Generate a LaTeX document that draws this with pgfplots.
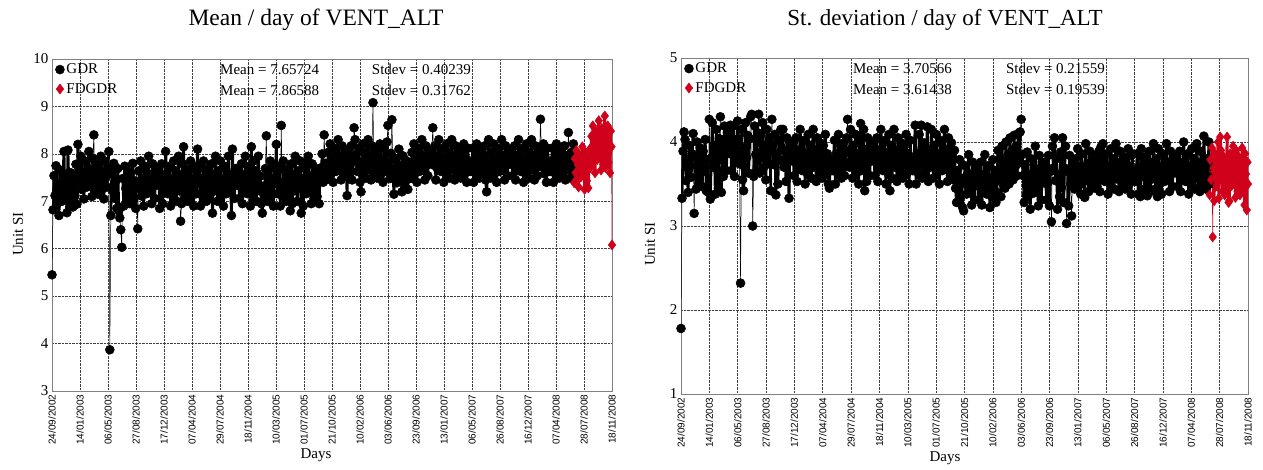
\documentclass[border=0pt]{standalone}
\usepackage{pgfplots}
\pgfplotsset{compat=1.18}
\usepackage{pgfplotstable}
\usepackage{fontspec}
\setmainfont{Liberation Serif}
\newfontfamily\tickfont{Liberation Sans}
\definecolor{fdred}{RGB}{208,2,27}

% mean per day, GDR (sampled every 4 days)
\pgfplotstableread[row sep=\\]{day val\\
0 5.45\\ 4 6.82\\ 8 7.54\\ 12 7.12\\ 16 7.75\\ 20 6.94\\ 24 7.36\\ 28 6.70\\ 32 7.66\\ 36 7.24\\
40 7.00\\ 44 7.48\\ 48 8.05\\ 52 7.06\\ 56 7.42\\ 60 6.76\\ 64 8.08\\ 68 7.18\\ 72 6.88\\ 76 7.60\\
80 7.30\\ 84 6.88\\ 88 7.54\\ 92 7.12\\ 96 7.78\\ 100 6.94\\
104 8.20\\ 108 7.75\\ 112 7.40\\ 116 7.95\\ 120 7.25\\ 124 7.60\\ 128 7.05\\ 132 7.85\\ 136 7.50\\ 140 7.30\\
144 7.70\\ 148 8.05\\ 152 7.35\\ 156 7.65\\ 160 7.10\\ 164 7.90\\ 168 8.40\\ 172 7.20\\ 176 7.80\\ 180 7.55\\
184 7.15\\ 188 7.75\\ 192 7.40\\ 196 7.95\\ 200 7.25\\ 204 7.60\\ 208 7.05\\ 212 7.85\\ 216 7.50\\ 220 7.30\\
224 7.70\\ 228 8.05\\ 232 3.87\\
236 6.70\\ 240 7.59\\ 244 7.22\\ 248 7.80\\ 252 7.06\\ 256 7.43\\ 260 6.85\\ 264 7.69\\ 268 6.80\\ 272 6.65\\
276 6.40\\ 280 6.03\\ 284 7.48\\ 288 6.90\\ 292 7.74\\ 296 7.27\\ 300 7.01\\ 304 7.64\\ 308 7.38\\ 312 6.95\\
316 7.59\\ 320 7.22\\ 324 7.80\\ 328 7.06\\ 332 7.43\\ 336 6.85\\ 340 7.40\\
344 6.42\\ 348 7.64\\ 352 7.27\\ 356 7.85\\ 360 7.11\\ 364 7.48\\ 368 6.90\\ 372 7.74\\ 376 7.37\\ 380 7.16\\
384 7.58\\ 388 7.95\\ 392 7.22\\ 396 7.53\\ 400 6.95\\ 404 7.79\\ 408 7.32\\ 412 7.06\\ 416 7.69\\ 420 7.43\\
424 7.43\\ 428 7.69\\ 432 6.85\\ 436 7.32\\ 440 7.79\\ 444 6.95\\ 448 7.53\\ 452 7.22\\ 456 8.05\\ 460 7.58\\
464 7.16\\ 468 7.37\\ 472 7.74\\ 476 6.90\\ 480 7.48\\ 484 7.11\\ 488 7.85\\ 492 7.27\\ 496 7.64\\ 500 7.00\\
504 7.58\\ 508 7.95\\ 512 7.22\\ 516 6.58\\ 520 6.95\\ 524 7.79\\ 528 8.15\\ 532 7.06\\ 536 7.69\\ 540 7.43\\
544 7.00\\ 548 7.64\\ 552 7.27\\ 556 7.85\\ 560 7.11\\ 564 7.48\\ 568 6.90\\ 572 7.74\\ 576 7.37\\ 580 7.16\\
584 8.10\\ 588 7.37\\ 592 7.74\\ 596 6.90\\ 600 7.48\\ 604 7.11\\ 608 7.85\\ 612 7.27\\ 616 7.64\\ 620 7.00\\
624 7.43\\ 628 7.69\\ 632 7.06\\ 636 7.32\\ 640 7.79\\ 644 6.75\\ 648 7.53\\ 652 7.22\\ 656 7.95\\ 660 7.58\\
664 7.00\\ 668 7.64\\ 672 7.27\\ 676 7.85\\ 680 7.11\\ 684 7.48\\ 688 6.90\\ 692 7.74\\ 696 7.37\\ 700 7.16\\
704 7.58\\ 708 7.95\\ 712 7.22\\ 716 7.53\\ 720 6.70\\ 724 8.10\\ 728 7.32\\ 732 7.06\\ 736 7.69\\ 740 7.43\\
744 7.43\\ 748 7.69\\ 752 7.06\\ 756 7.32\\ 760 7.79\\ 764 6.95\\ 768 7.53\\ 772 7.22\\ 776 7.95\\ 780 7.58\\
784 7.16\\ 788 7.37\\ 792 7.74\\ 796 6.90\\ 800 8.15\\ 804 7.11\\ 808 7.85\\ 812 7.27\\ 816 7.64\\ 820 7.00\\
824 7.58\\ 828 7.95\\ 832 7.22\\ 836 7.53\\ 840 6.95\\ 844 6.75\\ 848 7.32\\ 852 7.06\\ 856 7.69\\ 860 8.38\\
864 7.00\\ 868 7.64\\ 872 7.27\\ 876 7.85\\ 880 7.11\\ 884 7.48\\ 888 6.90\\ 892 7.74\\ 896 7.37\\ 900 8.20\\
904 7.16\\ 908 7.37\\ 912 7.74\\ 916 6.90\\ 920 8.60\\ 924 7.11\\ 928 7.85\\ 932 7.27\\ 936 7.64\\ 940 7.00\\
944 7.43\\ 948 7.69\\ 952 7.06\\ 956 6.80\\ 960 7.79\\ 964 6.95\\ 968 7.53\\ 972 7.22\\ 976 7.95\\ 980 7.58\\
984 7.00\\ 988 7.64\\ 992 7.27\\ 996 7.85\\ 1000 6.75\\ 1004 7.48\\ 1008 6.90\\ 1012 7.74\\ 1016 7.37\\ 1020 7.16\\
1024 7.85\\ 1028 7.95\\ 1032 7.22\\ 1036 7.53\\ 1040 6.95\\ 1044 7.79\\ 1048 7.32\\ 1052 7.06\\ 1056 7.69\\ 1060 7.43\\
1064 7.10\\ 1068 7.55\\ 1072 6.95\\ 1076 7.70\\ 1080 7.50\\ 1084 8.00\\ 1088 7.40\\ 1092 8.40\\ 1096 7.80\\ 1100 7.45\\
1104 7.49\\ 1108 8.03\\ 1112 7.72\\ 1116 8.21\\ 1120 7.58\\ 1124 7.90\\ 1128 7.40\\ 1132 8.12\\ 1136 7.81\\ 1140 7.63\\
1144 7.99\\ 1148 8.30\\ 1152 7.67\\ 1156 7.94\\ 1160 7.45\\ 1164 8.17\\ 1168 7.76\\ 1172 7.54\\ 1176 8.08\\ 1180 7.85\\
1184 7.12\\ 1188 8.08\\ 1192 7.54\\ 1196 7.76\\ 1200 8.17\\ 1204 7.45\\ 1208 7.94\\ 1212 8.55\\ 1216 8.30\\ 1220 7.99\\
1224 7.63\\ 1228 7.81\\ 1232 8.12\\ 1236 7.40\\ 1240 7.20\\ 1244 7.58\\ 1248 8.21\\ 1252 7.72\\ 1256 8.03\\ 1260 7.49\\
1264 7.99\\ 1268 8.30\\ 1272 7.67\\ 1276 7.94\\ 1280 7.45\\ 1284 8.17\\ 1288 9.08\\ 1292 7.54\\ 1296 8.08\\ 1300 7.85\\
1304 7.49\\ 1308 8.03\\ 1312 7.72\\ 1316 8.21\\ 1320 7.58\\ 1324 7.90\\ 1328 7.40\\ 1332 8.12\\ 1336 7.81\\ 1340 7.63\\
1344 8.25\\ 1348 8.60\\ 1352 7.82\\ 1356 7.48\\ 1360 8.01\\ 1364 8.72\\ 1368 7.67\\ 1372 7.15\\ 1376 7.91\\ 1380 7.58\\
1384 7.39\\ 1388 7.77\\ 1392 8.10\\ 1396 7.44\\ 1400 7.72\\ 1404 7.20\\ 1408 7.96\\ 1412 7.53\\ 1416 7.29\\ 1420 7.86\\
1424 7.63\\ 1428 7.25\\ 1432 7.82\\ 1436 7.48\\
1440 7.49\\ 1444 8.03\\ 1448 7.72\\ 1452 8.21\\ 1456 7.58\\ 1460 7.90\\ 1464 7.40\\ 1468 8.12\\ 1472 7.81\\ 1476 7.63\\
1480 7.99\\ 1484 8.30\\ 1488 7.67\\ 1492 7.94\\ 1496 7.45\\ 1500 8.17\\ 1504 7.76\\ 1508 7.54\\ 1512 8.08\\ 1516 7.85\\
1520 7.85\\ 1524 8.08\\ 1528 8.55\\ 1532 7.76\\ 1536 8.17\\ 1540 7.45\\ 1544 7.94\\ 1548 7.67\\ 1552 8.30\\ 1556 7.99\\
1560 7.63\\ 1564 7.81\\ 1568 8.12\\ 1572 7.40\\ 1576 7.90\\ 1580 7.58\\ 1584 8.21\\ 1588 7.72\\ 1592 8.03\\ 1596 7.49\\
1600 7.99\\ 1604 8.30\\ 1608 7.67\\ 1612 7.94\\ 1616 7.45\\ 1620 8.17\\ 1624 7.76\\ 1628 7.54\\ 1632 8.08\\ 1636 7.85\\
1640 7.49\\ 1644 8.03\\ 1648 7.72\\ 1652 8.21\\ 1656 7.58\\ 1660 7.90\\ 1664 7.40\\ 1668 8.12\\ 1672 7.81\\ 1676 7.63\\
1680 7.63\\ 1684 7.81\\ 1688 8.12\\ 1692 7.40\\ 1696 7.90\\ 1700 7.58\\ 1704 8.21\\ 1708 7.72\\ 1712 8.03\\ 1716 7.49\\
1720 7.85\\ 1724 8.08\\ 1728 7.54\\ 1732 7.76\\ 1736 8.17\\ 1740 7.45\\ 1744 7.20\\ 1748 7.67\\ 1752 8.30\\ 1756 7.99\\
1760 7.49\\ 1764 8.03\\ 1768 7.72\\ 1772 8.21\\ 1776 7.58\\ 1780 7.90\\ 1784 7.40\\ 1788 8.12\\ 1792 7.81\\ 1796 7.63\\
1800 7.99\\ 1804 8.30\\ 1808 7.67\\ 1812 7.94\\ 1816 7.45\\ 1820 8.17\\ 1824 7.76\\ 1828 7.54\\ 1832 8.08\\ 1836 7.85\\
1840 7.85\\ 1844 8.08\\ 1848 7.54\\ 1852 7.76\\ 1856 8.17\\ 1860 7.45\\ 1864 7.94\\ 1868 7.67\\ 1872 8.30\\ 1876 7.99\\
1880 7.63\\ 1884 7.81\\ 1888 8.12\\ 1892 7.40\\ 1896 7.90\\ 1900 7.58\\ 1904 8.21\\ 1908 7.72\\ 1912 8.03\\ 1916 7.49\\
1920 7.99\\ 1924 8.30\\ 1928 7.67\\ 1932 7.94\\ 1936 7.45\\ 1940 8.17\\ 1944 7.76\\ 1948 7.54\\ 1952 8.08\\ 1956 7.85\\
1960 8.73\\ 1964 8.03\\ 1968 7.72\\ 1972 8.21\\ 1976 7.58\\ 1980 7.90\\ 1984 7.40\\ 1988 8.12\\ 1992 7.81\\ 1996 7.63\\
2000 7.63\\ 2004 7.81\\ 2008 8.12\\ 2012 7.40\\ 2016 7.90\\ 2020 7.58\\ 2024 8.21\\ 2028 7.72\\ 2032 8.03\\ 2036 7.49\\
2040 7.85\\ 2044 8.08\\ 2048 7.54\\ 2052 7.76\\ 2056 8.17\\ 2060 7.45\\ 2064 7.94\\ 2068 7.67\\ 2072 8.45\\ 2076 7.99\\
2080 7.49\\ 2084 8.03\\ 2088 7.72\\ 2092 8.21\\ 2096 7.58\\ 2100 7.90\\
}\meanGDR

% mean per day, FDGDR (every 3 days)
\pgfplotstableread[row sep=\\]{day val\\
2095 7.39\\ 2098 7.90\\ 2101 7.60\\ 2104 8.07\\ 2107 7.47\\ 2110 7.77\\ 2113 7.30\\ 2116 7.98\\ 2119 7.68\\ 2122 7.51\\
2125 7.85\\ 2128 8.15\\ 2131 7.56\\ 2134 7.81\\ 2137 7.25\\ 2140 8.02\\ 2143 7.64\\ 2146 7.43\\ 2149 7.94\\ 2152 7.28\\
2155 7.73\\ 2158 8.10\\ 2161 7.71\\ 2164 8.37\\ 2167 7.99\\ 2170 8.59\\ 2173 7.82\\ 2176 8.21\\ 2179 7.60\\ 2182 8.48\\
2185 8.10\\ 2188 7.88\\ 2191 8.32\\ 2194 8.70\\ 2197 7.93\\ 2200 8.26\\ 2203 7.66\\ 2206 8.54\\ 2209 8.04\\ 2212 7.77\\
2215 8.43\\ 2218 8.80\\ 2221 7.71\\ 2224 8.37\\ 2227 7.99\\ 2230 8.59\\ 2233 7.82\\ 2236 8.21\\ 2239 7.60\\ 2242 8.48\\
2245 8.15\\ 2247 6.08\\
}\meanFD

% standard deviation per day, GDR (every 4 days)
\pgfplotstableread[row sep=\\]{day val\\
0 1.78\\ 4 3.33\\ 8 3.89\\ 12 4.12\\ 16 4.03\\ 20 3.54\\ 24 3.79\\ 28 3.40\\ 32 3.96\\ 36 3.72\\
40 3.58\\ 44 3.86\\ 48 4.10\\ 52 3.15\\ 56 3.82\\ 60 3.44\\ 64 4.00\\ 68 3.68\\ 72 3.51\\ 76 3.93\\
80 3.75\\ 84 3.47\\ 88 3.89\\ 92 3.65\\ 96 4.03\\ 100 3.42\\ 104 3.79\\ 108 3.40\\
112 4.27\\ 116 3.32\\ 120 3.81\\ 124 4.23\\ 128 3.70\\ 132 3.96\\ 136 3.38\\ 140 4.15\\ 144 3.89\\ 148 3.45\\
152 4.04\\ 156 4.30\\ 160 3.40\\ 164 4.00\\ 168 3.59\\ 172 4.19\\ 176 3.85\\ 180 3.66\\ 184 4.11\\ 188 3.93\\
192 3.93\\ 196 4.20\\ 200 3.66\\ 204 3.85\\ 208 4.19\\ 212 3.59\\ 216 4.00\\ 220 3.78\\ 224 4.25\\ 228 4.04\\
232 3.74\\ 236 2.32\\ 240 4.15\\ 244 3.55\\ 248 3.42\\ 252 3.70\\ 256 4.23\\ 260 3.81\\ 264 4.08\\ 268 3.63\\
272 4.04\\ 276 4.30\\ 280 4.33\\ 284 3.00\\ 288 3.59\\ 292 4.19\\ 296 3.85\\ 300 3.66\\ 304 4.11\\ 308 4.33\\
312 3.63\\ 316 4.08\\ 320 3.81\\ 324 4.23\\ 328 3.70\\ 332 3.96\\ 336 3.55\\ 340 4.15\\ 344 3.89\\ 348 3.74\\
352 4.05\\ 356 3.42\\
360 4.27\\ 364 3.96\\ 368 3.73\\ 372 4.09\\ 376 3.37\\ 380 3.86\\ 384 3.50\\ 388 4.02\\ 392 3.79\\ 396 4.15\\
400 3.92\\ 404 4.15\\ 408 3.70\\ 412 3.89\\ 416 3.53\\ 420 4.05\\ 424 3.76\\ 428 3.33\\ 432 3.99\\ 436 3.83\\
440 3.83\\ 444 3.99\\ 448 3.60\\ 452 3.76\\ 456 4.05\\ 460 3.53\\ 464 3.89\\ 468 3.70\\ 472 4.15\\ 476 3.92\\
480 3.66\\ 484 3.79\\ 488 4.02\\ 492 3.50\\ 496 3.86\\ 500 3.63\\ 504 4.09\\ 508 3.73\\ 512 3.96\\ 516 3.57\\
520 3.92\\ 524 4.15\\ 528 3.70\\ 532 3.89\\ 536 3.53\\ 540 4.05\\ 544 3.76\\ 548 3.60\\ 552 3.99\\ 556 3.83\\
560 3.57\\ 564 3.96\\ 568 3.73\\ 572 4.09\\ 576 3.63\\ 580 3.86\\ 584 3.50\\ 588 3.45\\ 592 3.79\\ 596 3.66\\
600 3.66\\ 604 3.79\\ 608 4.02\\ 612 3.50\\ 616 3.86\\ 620 3.63\\ 624 4.09\\ 628 3.73\\ 632 3.96\\ 636 3.57\\
640 3.83\\ 644 3.99\\ 648 3.60\\ 652 3.76\\ 656 4.05\\ 660 4.27\\ 664 3.89\\ 668 3.70\\ 672 4.15\\ 676 3.92\\
680 3.57\\ 684 3.96\\ 688 3.73\\ 692 4.09\\ 696 3.63\\ 700 3.86\\ 704 3.50\\ 708 4.02\\ 712 4.22\\ 716 3.66\\
720 3.92\\ 724 4.15\\ 728 3.42\\ 732 3.89\\ 736 3.53\\ 740 4.05\\ 744 3.76\\ 748 3.60\\ 752 3.99\\ 756 3.83\\
760 3.83\\ 764 3.99\\ 768 3.60\\ 772 3.76\\ 776 4.05\\ 780 3.53\\ 784 3.89\\ 788 3.70\\ 792 4.15\\ 796 3.92\\
800 3.66\\ 804 3.79\\ 808 4.02\\ 812 3.50\\ 816 3.86\\ 820 3.63\\ 824 4.09\\ 828 3.42\\ 832 3.96\\ 836 3.57\\
840 3.92\\ 844 4.15\\ 848 3.70\\ 852 3.89\\ 856 3.53\\ 860 4.05\\ 864 3.76\\ 868 3.60\\ 872 3.99\\ 876 3.83\\
880 3.57\\ 884 3.96\\ 888 3.73\\ 892 4.09\\ 896 3.63\\ 900 3.86\\ 904 3.50\\ 908 4.02\\ 912 3.79\\ 916 3.66\\
920 3.66\\ 924 3.79\\ 928 4.20\\ 932 3.50\\ 936 3.86\\ 940 3.63\\ 944 4.09\\ 948 3.73\\ 952 4.20\\ 956 3.57\\
960 3.83\\ 964 3.99\\ 968 3.60\\ 972 3.76\\ 976 4.18\\ 980 3.53\\ 984 3.89\\ 988 3.70\\ 992 4.15\\ 996 3.92\\
1000 3.57\\ 1004 3.96\\ 1008 3.73\\ 1012 4.09\\ 1016 3.63\\ 1020 3.86\\ 1024 3.50\\ 1028 4.02\\ 1032 3.79\\ 1036 3.66\\
1040 3.92\\ 1044 4.15\\ 1048 3.70\\ 1052 3.89\\ 1056 3.53\\ 1060 4.05\\ 1064 3.76\\ 1068 3.60\\ 1072 3.99\\ 1076 3.83\\
1080 3.55\\ 1084 3.90\\ 1088 3.45\\
1092 3.28\\ 1096 3.66\\ 1100 3.44\\ 1104 3.79\\ 1108 3.35\\ 1112 3.57\\ 1116 3.22\\ 1120 3.18\\ 1124 3.72\\ 1128 3.50\\
1132 3.38\\ 1136 3.63\\ 1140 3.85\\ 1144 3.41\\ 1148 3.60\\ 1152 3.25\\ 1156 3.76\\ 1160 3.47\\ 1164 3.31\\ 1168 3.69\\
1172 3.54\\ 1176 3.69\\ 1180 3.31\\ 1184 3.47\\ 1188 3.76\\ 1192 3.25\\ 1196 3.60\\ 1200 3.41\\ 1204 3.85\\ 1208 3.63\\
1212 3.38\\ 1216 3.50\\ 1220 3.72\\ 1224 3.22\\ 1228 3.57\\ 1232 3.35\\ 1236 3.79\\ 1240 3.44\\ 1244 3.66\\ 1248 3.28\\
1252 3.40\\ 1256 3.90\\ 1260 3.55\\ 1264 3.80\\ 1268 3.35\\ 1272 3.95\\ 1276 3.50\\ 1280 3.75\\ 1284 3.45\\ 1288 4.00\\
1292 3.60\\ 1296 3.85\\ 1300 3.50\\ 1304 4.05\\ 1308 3.65\\ 1312 3.90\\ 1316 3.55\\ 1320 4.08\\ 1324 3.70\\ 1328 3.95\\
1332 3.60\\ 1336 4.10\\ 1340 3.75\\ 1344 4.12\\ 1348 4.27\\ 1352 3.85\\ 1356 3.60\\
1360 3.28\\ 1364 3.73\\ 1368 3.37\\ 1372 3.88\\ 1376 3.35\\ 1380 3.61\\ 1384 3.20\\ 1388 3.80\\ 1392 3.54\\ 1396 3.39\\
1400 3.69\\ 1404 3.95\\ 1408 3.43\\ 1412 3.65\\ 1416 3.24\\ 1420 3.84\\ 1424 3.50\\ 1428 3.31\\ 1432 3.76\\ 1436 3.58\\
1440 3.58\\ 1444 3.76\\ 1448 3.31\\ 1452 3.50\\ 1456 3.84\\ 1460 3.24\\ 1464 3.65\\ 1468 3.05\\ 1472 3.95\\ 1476 3.69\\
1480 4.05\\ 1484 3.54\\ 1488 3.80\\ 1492 3.20\\ 1496 3.61\\ 1500 3.35\\ 1504 3.88\\ 1508 3.46\\ 1512 4.05\\ 1516 3.28\\
1520 3.69\\ 1524 3.95\\ 1528 3.03\\ 1532 3.65\\ 1536 3.24\\ 1540 3.84\\ 1544 3.50\\ 1548 3.12\\ 1552 3.76\\ 1556 3.58\\
1560 3.44\\ 1564 3.80\\ 1568 3.59\\ 1572 3.92\\ 1576 3.50\\ 1580 3.71\\ 1584 3.38\\ 1588 3.86\\ 1592 3.65\\ 1596 3.53\\
1600 3.34\\ 1604 3.98\\ 1608 3.56\\ 1612 3.74\\ 1616 3.41\\ 1620 3.89\\ 1624 3.62\\ 1628 3.47\\ 1632 3.83\\ 1636 3.68\\
1640 3.45\\ 1644 3.83\\ 1648 3.47\\ 1652 3.62\\ 1656 3.89\\ 1660 3.41\\ 1664 3.94\\ 1668 3.56\\ 1672 3.98\\ 1676 3.77\\
1680 3.53\\ 1684 3.65\\ 1688 3.86\\ 1692 3.38\\ 1696 3.71\\ 1700 3.50\\ 1704 3.92\\ 1708 3.59\\ 1712 3.80\\ 1716 3.44\\
1720 3.77\\ 1724 3.98\\ 1728 3.56\\ 1732 3.74\\ 1736 3.41\\ 1740 3.89\\ 1744 3.62\\ 1748 3.47\\ 1752 3.83\\ 1756 3.68\\
1760 3.44\\ 1764 3.80\\ 1768 3.59\\ 1772 3.92\\ 1776 3.50\\ 1780 3.71\\ 1784 3.38\\ 1788 3.86\\ 1792 3.65\\ 1796 3.53\\
1800 3.53\\ 1804 3.65\\ 1808 3.86\\ 1812 3.38\\ 1816 3.71\\ 1820 3.35\\ 1824 3.92\\ 1828 3.59\\ 1832 3.80\\ 1836 3.44\\
1840 3.68\\ 1844 3.83\\ 1848 3.36\\ 1852 3.62\\ 1856 3.89\\ 1860 3.41\\ 1864 3.74\\ 1868 3.56\\ 1872 3.98\\ 1876 3.77\\
1880 3.44\\ 1884 3.80\\ 1888 3.35\\ 1892 3.92\\ 1896 3.50\\ 1900 3.71\\ 1904 3.38\\ 1908 3.86\\ 1912 3.65\\ 1916 3.53\\
1920 3.77\\ 1924 3.98\\ 1928 3.56\\ 1932 3.74\\ 1936 3.41\\ 1940 3.89\\ 1944 3.62\\ 1948 3.47\\ 1952 3.83\\ 1956 3.68\\
1960 3.68\\ 1964 3.83\\ 1968 3.47\\ 1972 3.62\\ 1976 3.89\\ 1980 3.41\\ 1984 3.74\\ 1988 3.56\\ 1992 4.00\\ 1996 3.77\\
2000 3.53\\ 2004 3.65\\ 2008 3.86\\ 2012 3.38\\ 2016 3.71\\ 2020 3.50\\ 2024 3.92\\ 2028 3.59\\ 2032 3.80\\ 2036 3.44\\
2040 3.77\\ 2044 3.98\\ 2048 3.56\\ 2052 3.45\\ 2056 3.41\\ 2060 3.89\\ 2064 3.62\\ 2068 3.47\\ 2072 4.07\\ 2076 3.68\\
2080 3.44\\ 2084 3.80\\ 2088 3.59\\ 2092 4.00\\ 2096 3.50\\ 2100 3.71\\
}\sdGDR

% standard deviation per day, FDGDR (every 3 days)
\pgfplotstableread[row sep=\\]{day val\\
2095 3.37\\ 2098 3.79\\ 2101 3.55\\ 2104 3.93\\ 2107 2.87\\ 2110 3.69\\ 2113 3.30\\ 2116 3.86\\ 2119 3.62\\ 2122 3.48\\
2125 3.76\\ 2128 4.00\\ 2131 3.33\\ 2134 3.72\\ 2137 4.06\\ 2140 3.90\\ 2143 3.58\\ 2146 3.41\\ 2149 3.83\\ 2152 3.65\\
2155 3.37\\ 2158 3.79\\ 2161 3.55\\ 2164 4.06\\ 2167 3.44\\ 2170 3.28\\ 2173 3.30\\ 2176 3.86\\ 2179 3.62\\ 2182 3.48\\
2185 3.76\\ 2188 3.95\\ 2191 3.51\\ 2194 3.72\\ 2197 3.34\\ 2200 3.90\\ 2203 3.58\\ 2206 3.41\\ 2209 3.83\\ 2212 3.65\\
2215 3.37\\ 2218 3.79\\ 2221 3.55\\ 2224 3.93\\ 2227 3.44\\ 2230 3.69\\ 2233 3.25\\ 2236 3.86\\ 2239 3.62\\ 2242 3.19\\
2245 3.76\\ 2247 3.50\\
}\sdFD

\tikzset{stat/.style={anchor=north west, font=\fontsize{15}{15}\selectfont, inner sep=0pt}}

\pgfplotsset{
  ventplot/.style={
    scale only axis,
    anchor=south west,
    xmin=0, xmax=2247,
    xtick={0,112.35,224.7,337.05,449.4,561.75,674.1,786.45,898.8,1011.15,1123.5,
      1235.85,1348.2,1460.55,1572.9,1685.25,1797.6,1909.95,2022.3,2134.65,2247},
    xticklabels={24/09/2002,14/01/2003,06/05/2003,27/08/2003,17/12/2003,07/04/2004,
      29/07/2004,18/11/2004,10/03/2005,01/07/2005,21/10/2005,10/02/2006,03/06/2006,
      23/09/2006,13/01/2007,06/05/2007,26/08/2007,16/12/2007,07/04/2008,28/07/2008,18/11/2008},
    xticklabel style={rotate=90, anchor=east, font=\tickfont\fontsize{10}{10}\selectfont},
    yticklabel style={font=\fontsize{15}{15}\selectfont},
    /pgf/number format/assume math mode=true,
    grid=major,
    major grid style={densely dotted, black!75, line width=0.6pt},
    axis line style={black!50, line width=0.8pt},
    tick style={draw=none},
    legend style={at={(0.004,0.995)}, anchor=north west, draw=none, fill=none,
      font=\fontsize{15}{15}\selectfont, row sep=4pt, inner sep=1pt},
    legend cell align=left,
    legend image code/.code={\draw[##1] plot coordinates {(0.15cm,0cm)};},
  },
  gdr/.style={black, line width=0.5pt, mark=*, mark size=4.5pt, mark options={fill=black}},
  fdgdr/.style={fdred, line width=0.5pt, mark=diamond*, mark size=5pt, mark options={fill=fdred, draw=fdred}},
  % the daily series is dense: a thick trace of the in-band points fills the mass
  dense/.style={line width=2.8pt, line join=round, line cap=round, no markers, forget plot},
}

\begin{document}
\begin{tikzpicture}
\useasboundingbox (0pt,0pt) rectangle (1263pt,469pt);

% left: mean
\begin{axis}[ventplot, at={(52pt,78pt)}, width=560pt, height=332pt,
  ymin=3, ymax=10, ytick={3,4,...,10}]
  \addplot[dense, black, restrict y to domain=6.68:8.35] table[x=day, y=val] {\meanGDR};
  \addplot[gdr] table[x=day, y=val] {\meanGDR};
  \addlegendentry{GDR}
  \addplot[dense, fdred, restrict y to domain=7.2:8.9] table[x=day, y=val] {\meanFD};
  \addplot[fdgdr] table[x=day, y=val] {\meanFD};
  \addlegendentry{FDGDR}
  \node[stat] at (rel axis cs:0.30,0.985) {Mean = 7.65724};
  \node[stat] at (rel axis cs:0.30,0.922) {Mean = 7.86588};
  \node[stat] at (rel axis cs:0.571,0.985) {Stdev = 0.40239};
  \node[stat] at (rel axis cs:0.571,0.922) {Stdev = 0.31762};
\end{axis}

% right: standard deviation
\begin{axis}[ventplot, at={(681pt,75pt)}, width=567pt, height=336pt,
  ymin=1, ymax=5, ytick={1,2,...,5}]
  \addplot[dense, black, restrict y to domain=3.2:4.25] table[x=day, y=val] {\sdGDR};
  \addplot[gdr] table[x=day, y=val] {\sdGDR};
  \addlegendentry{GDR}
  \addplot[dense, fdred, restrict y to domain=3.1:4.1] table[x=day, y=val] {\sdFD};
  \addplot[fdgdr] table[x=day, y=val] {\sdFD};
  \addlegendentry{FDGDR}
  \node[stat] at (rel axis cs:0.303,0.985) {Mean = 3.70566};
  \node[stat] at (rel axis cs:0.303,0.922) {Mean = 3.61438};
  \node[stat] at (rel axis cs:0.573,0.985) {Stdev = 0.21559};
  \node[stat] at (rel axis cs:0.573,0.922) {Stdev = 0.19539};
\end{axis}

% titles and axis labels
\node[font=\fontsize{23.5}{23.5}\selectfont] at (316pt,449pt) {Mean / day of VENT\_ALT};
\node[font=\fontsize{23}{23}\selectfont] at (945pt,449pt) {St. deviation / day of VENT\_ALT};
\node[font=\fontsize{15}{15}\selectfont] at (316pt,14pt) {Days};
\node[font=\fontsize{15}{15}\selectfont] at (945pt,11pt) {Days};
\node[font=\fontsize{15}{15}\selectfont, rotate=90] at (18pt,235pt) {Unit SI};
\node[font=\fontsize{15}{15}\selectfont, rotate=90] at (650pt,225pt) {Unit SI};
\end{tikzpicture}
\end{document}
